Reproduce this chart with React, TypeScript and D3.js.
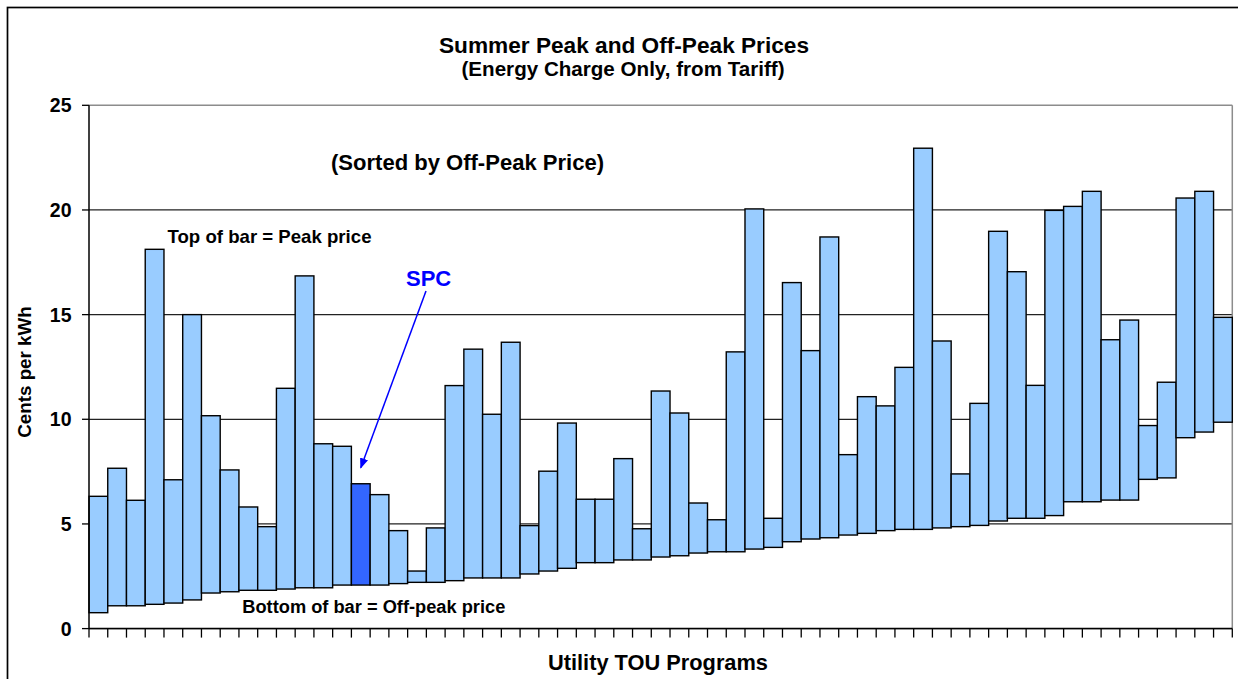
import React from "react";
import * as d3 from "d3";

// Summer off-peak (bottom of bar) and peak (top of bar) prices, cents per kWh
const offPeak = [
  0.76, 1.09, 1.09, 1.16, 1.22, 1.37, 1.7, 1.76, 1.83, 1.83, 1.89, 1.95, 1.95, 2.08, 2.08, 2.08,
  2.15, 2.21, 2.21, 2.29, 2.42, 2.42, 2.42, 2.61, 2.75, 2.88, 3.15, 3.15, 3.28, 3.28, 3.42, 3.48,
  3.61, 3.67, 3.67, 3.8, 3.88, 4.15, 4.28, 4.34, 4.47, 4.55, 4.68, 4.74, 4.74, 4.81, 4.87, 4.93,
  5.14, 5.27, 5.27, 5.4, 6.06, 6.06, 6.14, 6.14, 7.13, 7.2, 9.12, 9.39, 9.86,
];
const peak = [
  6.32, 7.66, 6.13, 18.12, 7.11, 15.0, 10.17, 7.58, 5.81, 4.87, 11.48, 16.85, 8.83, 8.71, 6.92, 6.4,
  4.68, 2.75, 4.81, 11.61, 13.35, 10.24, 13.68, 4.92, 7.52, 9.82, 6.18, 6.18, 8.12, 4.77, 11.35, 10.3,
  6.0, 5.2, 13.22, 20.05, 5.27, 16.53, 13.28, 18.71, 8.31, 11.08, 10.64, 12.48, 22.95, 13.74, 7.39, 10.76,
  18.98, 17.05, 11.62, 19.98, 20.17, 20.89, 13.8, 14.74, 9.7, 11.77, 20.57, 20.89, 14.87,
];
const programs = d3.range(1, peak.length + 1).map((i) => `TOU ${i}`);
const highlightProgram = "TOU 15"; // SPC
const yTicks = [0, 5, 10, 15, 20, 25];

const FONT = "'Liberation Sans', Arial, sans-serif";

export default function App() {
  const W = 1238;
  const H = 679;
  const left = 89;
  const right = 1232.3;
  const top = 105.3;
  const bottom = 628.6;

  const x = d3.scaleBand<string>().domain(programs).range([left, right]).padding(0);
  const y = d3.scaleLinear().domain([0, 25]).range([bottom, top]);

  const spcIdx = programs.indexOf(highlightProgram);
  const spcX = (x(highlightProgram) as number) + x.bandwidth() / 2;
  const spcTop = y(peak[spcIdx]);

  return (
    <svg
      width={W}
      height={H}
      style={{ position: "absolute", left: 0, top: 0, background: "#fff" }}
      fontFamily={FONT}
    >
      <defs>
        <marker id="arrow" viewBox="0 0 10 10" refX="9" refY="5" markerWidth="7" markerHeight="7" orient="auto-start-reverse">
          <path d="M0,1 L10,5 L0,9 z" fill="#0000ff" />
        </marker>
      </defs>
      {/* outer frame */}
      <rect x={7.5} y={7.5} width={W} height={H} fill="none" stroke="#000" strokeWidth={1.7} />

      {/* titles */}
      <text x={624} y={52.5} textAnchor="middle" fontWeight="bold" fontSize={22} textLength={370} lengthAdjust="spacingAndGlyphs">
        Summer Peak and Off-Peak Prices
      </text>
      <text x={623} y={75.5} textAnchor="middle" fontWeight="bold" fontSize={19.5} textLength={323} lengthAdjust="spacingAndGlyphs">
        (Energy Charge Only, from Tariff)
      </text>

      {/* gridlines */}
      {yTicks.map((t) => (
        <line
          key={t}
          x1={left}
          x2={right}
          y1={y(t)}
          y2={y(t)}
          stroke={t === 25 ? "#8c8c8c" : "#222"}
          strokeWidth={t === 25 ? 1.5 : 1.3}
        />
      ))}
      {/* plot area right border */}
      <line x1={right} x2={right} y1={top} y2={bottom} stroke="#8c8c8c" strokeWidth={1.5} />

      {/* bars */}
      {programs.map((p, i) => (
        <rect
          key={p}
          x={x(p)}
          y={y(peak[i])}
          width={x.bandwidth()}
          height={y(offPeak[i]) - y(peak[i])}
          fill={p === highlightProgram ? "#3366ff" : "#99ccff"}
          stroke="#000"
          strokeWidth={1.4}
        />
      ))}

      {/* axes */}
      <line x1={left} x2={left} y1={top} y2={bottom} stroke="#000" strokeWidth={1.5} />
      <line x1={left} x2={right} y1={bottom} y2={bottom} stroke="#000" strokeWidth={1.5} />
      {yTicks.map((t) => (
        <g key={`yt${t}`}>
          <line x1={left - 7} x2={left} y1={y(t)} y2={y(t)} stroke="#000" strokeWidth={1.3} />
          <text x={left - 17.5} y={y(t)} dy="0.36em" textAnchor="end" fontWeight="bold" fontSize={19.5}>
            {t}
          </text>
        </g>
      ))}
      {[...programs.map((p) => x(p) as number), right].map((xv, i) => (
        <line key={`xt${i}`} x1={xv} x2={xv} y1={bottom} y2={bottom + 9} stroke="#000" strokeWidth={1.3} />
      ))}

      {/* axis titles */}
      <text
        transform={`translate(31,372) rotate(-90)`}
        textAnchor="middle"
        fontWeight="bold"
        fontSize={18.8}
      >
        Cents per kWh
      </text>
      <text x={658} y={670} textAnchor="middle" fontWeight="bold" fontSize={21.5} textLength={220} lengthAdjust="spacingAndGlyphs">
        Utility TOU Programs
      </text>

      {/* annotations */}
      <text x={331} y={170} fontWeight="bold" fontSize={22} textLength={273} lengthAdjust="spacingAndGlyphs">
        (Sorted by Off-Peak Price)
      </text>
      <text x={167.5} y={243.3} fontWeight="bold" fontSize={18.5} textLength={204} lengthAdjust="spacingAndGlyphs">
        Top of bar = Peak price
      </text>
      <text x={242.3} y={613.3} fontWeight="bold" fontSize={18.3} textLength={263} lengthAdjust="spacingAndGlyphs">
        Bottom of bar = Off-peak price
      </text>
      <text x={406} y={286} fontWeight="bold" fontSize={22} fill="#0000ff">
        SPC
      </text>
      <line
        x1={426}
        y1={291}
        x2={spcX}
        y2={spcTop - 16}
        stroke="#0000ff"
        strokeWidth={1.5}
        markerEnd="url(#arrow)"
      />
    </svg>
  );
}
